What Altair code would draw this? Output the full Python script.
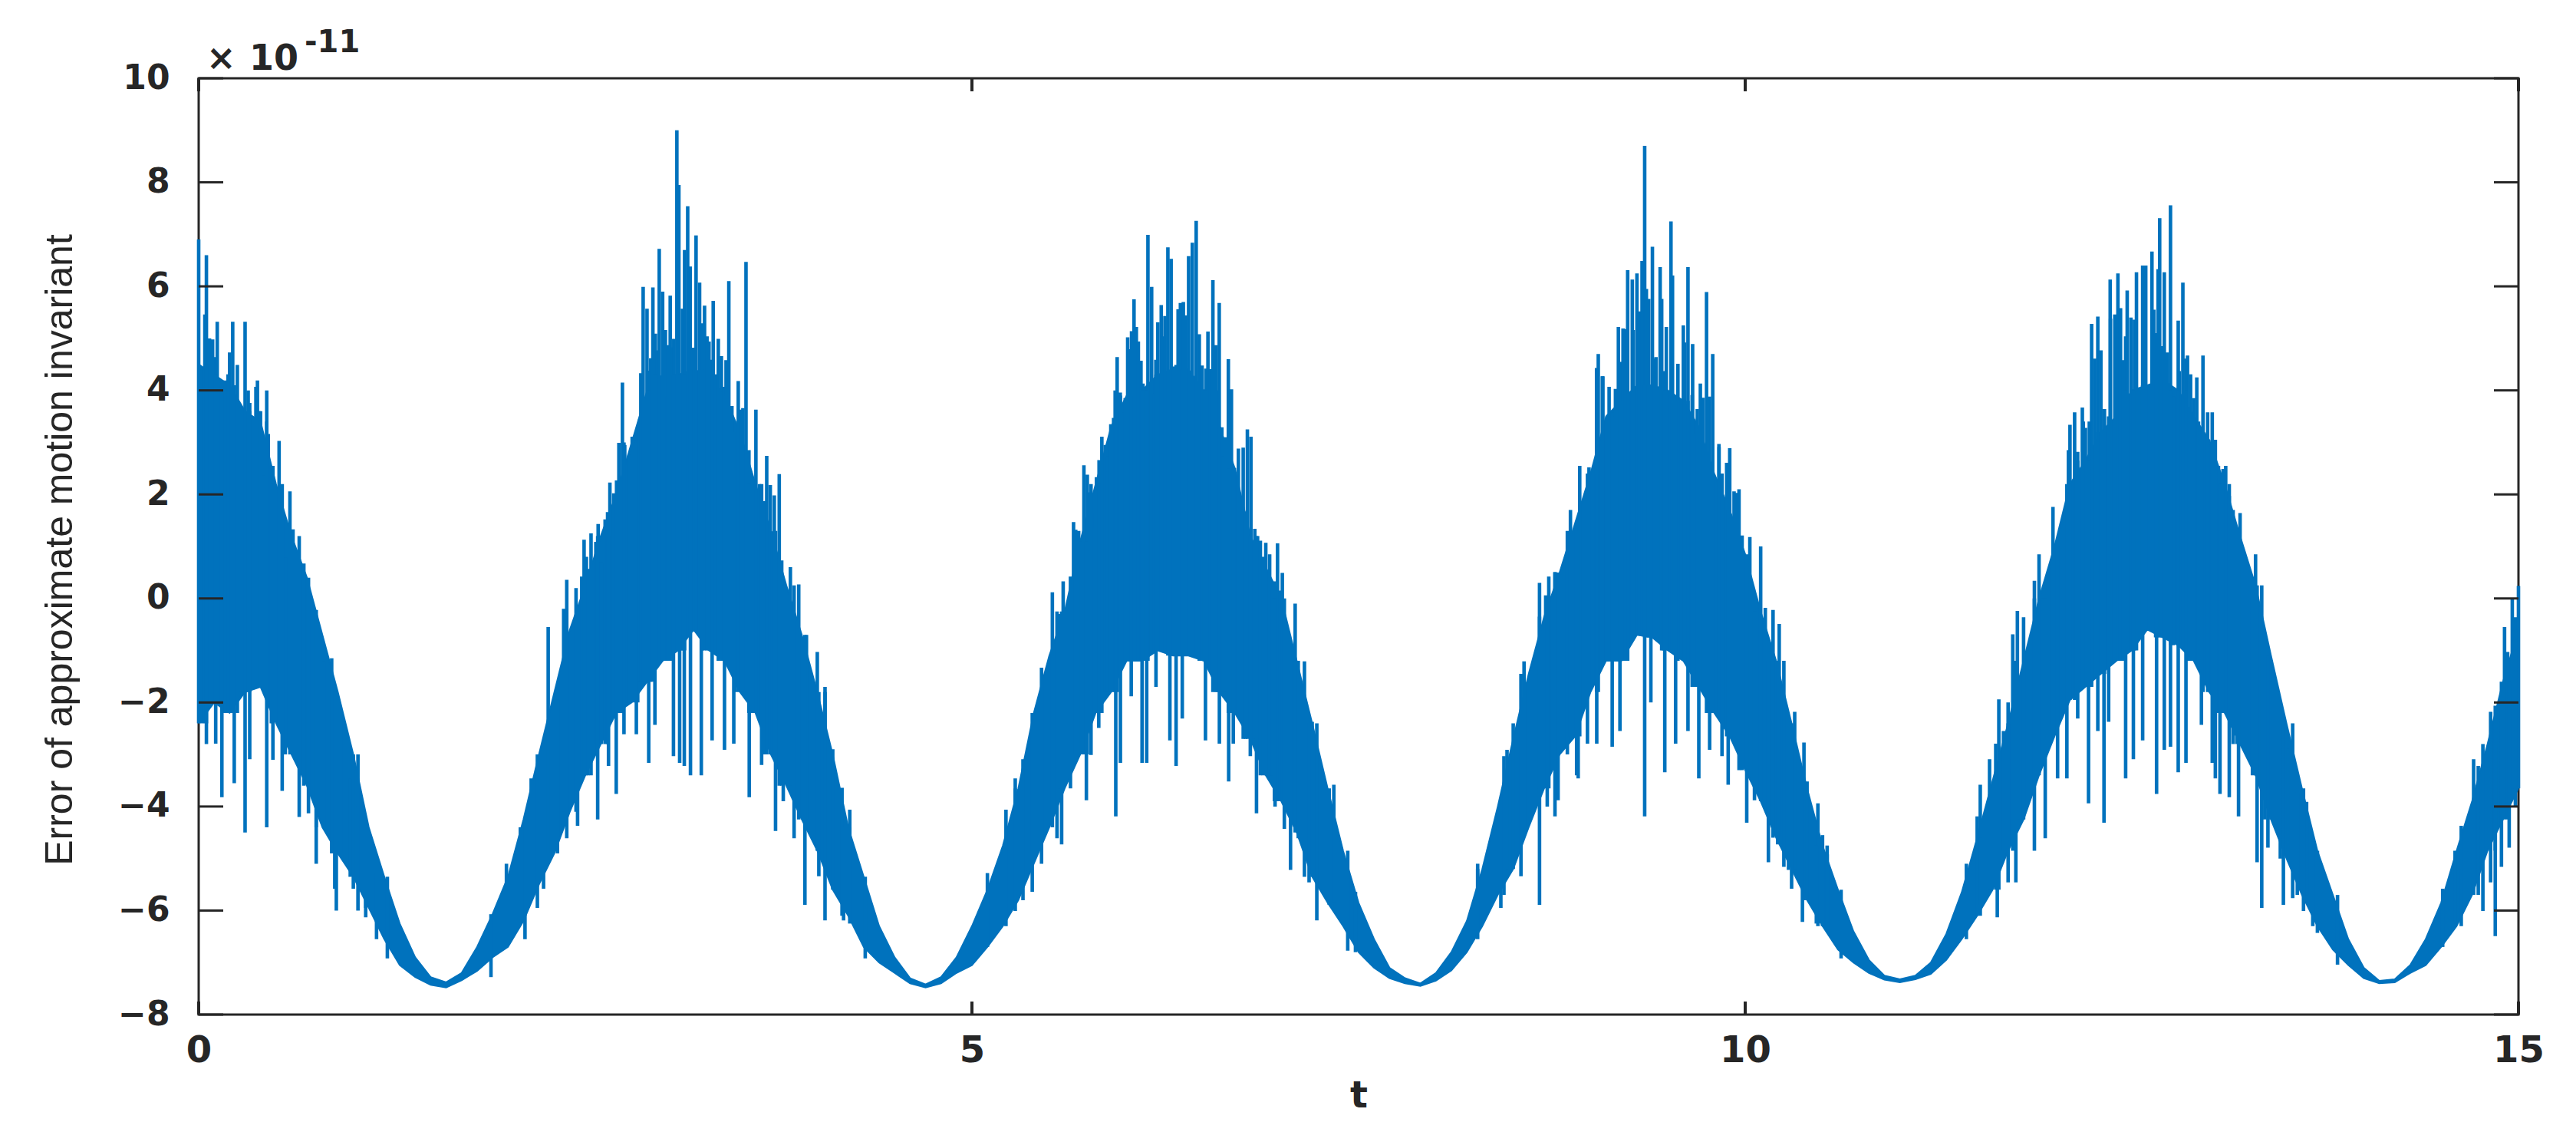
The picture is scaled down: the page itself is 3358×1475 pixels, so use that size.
import altair as alt
import pandas as pd

# sampling positions of the dense band (t = 0.0 ... 15.0, step 0.1)
T = [round(i * 0.1, 1) for i in range(151)]

# upper edge of the dense (solid) band, read at each T (units of 1e-11)
CORE_HI = [
    4.5, 4.3, 4.1, 3.6, 3.4, 2.2, 1.2, 0.4, -0.7, -1.8,
    -3.0, -4.4, -5.35, -6.25, -6.9, -7.28, -7.38, -7.2, -6.7, -6.07,
    -5.35, -4.25, -3.0, -1.8, -0.6, 0.25, 1.2, 2.0, 3.0, 4.0,
    4.3, 4.3, 4.4, 4.3, 3.9, 3.2, 2.2, 1.3, 0.25, -0.7,
    -1.8, -3.0, -4.4, -5.35, -6.3, -6.9, -7.3, -7.42, -7.28, -6.9,
    -6.3, -5.6, -4.75, -3.65, -2.2, -1.1, -0.25, 1.1, 2.2, 3.3,
    3.9, 4.0, 4.3, 4.4, 4.4, 4.0, 3.3, 2.5, 1.2, 0.6,
    0.0, -1.2, -2.4, -3.65, -4.85, -5.85, -6.55, -7.1, -7.3, -7.4,
    -7.2, -6.8, -6.2, -5.2, -4.0, -2.7, -1.45, -0.35, 0.5, 1.45,
    2.4, 3.5, 3.8, 4.1, 4.1, 4.0, 3.8, 3.3, 2.4, 1.7,
    0.85, -0.25, -1.2, -2.4, -3.65, -4.75, -5.6, -6.4, -6.95, -7.25,
    -7.32, -7.25, -7.0, -6.45, -5.65, -4.6, -3.5, -2.4, -1.2, 0.0,
    1.0, 2.2, 2.65, 3.2, 3.5, 4.0, 4.1, 4.2, 4.0, 3.5,
    3.05, 2.2, 1.2, 0.25, -1.1, -2.4, -3.65, -4.85, -5.7, -6.55,
    -7.1, -7.35, -7.32, -7.05, -6.55, -5.85, -4.85, -3.9, -2.8, -1.6,
    -0.6,
]

# lower edge of the dense band, read at each T
CORE_LO = [
    -2.4, -2.0, -2.2, -1.8, -1.7, -2.4, -3.0, -3.6, -4.4, -4.9,
    -5.35, -5.95, -6.55, -7.05, -7.28, -7.43, -7.48, -7.34, -7.16, -6.9,
    -6.7, -6.2, -5.5, -4.9, -4.1, -3.4, -2.8, -2.2, -2.0, -1.6,
    -1.2, -1.0, -0.6, -1.0, -1.2, -1.8, -2.2, -3.0, -3.6, -4.25,
    -4.85, -5.6, -6.1, -6.7, -7.0, -7.2, -7.4, -7.48, -7.4, -7.2,
    -7.05, -6.7, -6.3, -5.8, -5.1, -4.4, -3.65, -3.0, -2.2, -1.8,
    -1.2, -1.2, -1.0, -1.1, -1.1, -1.2, -1.8, -2.2, -2.7, -3.4,
    -3.9, -4.5, -5.35, -5.85, -6.3, -6.8, -7.1, -7.3, -7.4, -7.45,
    -7.35, -7.15, -6.8, -6.3, -5.7, -5.2, -4.4, -3.65, -3.0, -2.65,
    -1.8, -1.2, -1.2, -0.7, -0.75, -1.0, -1.2, -1.7, -2.2, -2.65,
    -3.3, -3.9, -4.6, -5.2, -5.8, -6.3, -6.75, -7.0, -7.2, -7.33,
    -7.38, -7.32, -7.22, -6.95, -6.55, -6.1, -5.6, -4.85, -4.25, -3.4,
    -2.65, -1.95, -1.7, -1.45, -1.2, -1.0, -0.6, -0.75, -0.9, -1.2,
    -1.8, -2.2, -2.8, -3.4, -4.25, -5.0, -5.7, -6.3, -6.75, -7.05,
    -7.3, -7.4, -7.38, -7.2, -7.05, -6.7, -6.3, -5.7, -4.85, -4.25,
    -3.65,
]

# upward spikes (t, tip value)
SPIKES_UP = [
    (0.00, 6.9), (0.05, 6.6), (0.07, 5.0), (0.10, 4.64), (0.12, 5.32), (0.17, 4.19),
    (0.20, 4.73), (0.22, 5.32), (0.26, 3.68), (0.30, 5.32), (0.32, 4.0), (0.37, 4.07),
    (0.39, 3.6), (0.44, 4.0), (0.48, 2.55), (0.52, 3.03), (0.56, 0.79), (0.59, 2.06),
    (0.61, 1.33), (0.68, 0.67), (0.71, 0.06), (0.76, -0.22), (0.81, -1.21), (0.86, -1.15),
    (0.88, -1.84), (0.92, -2.16), (0.98, -3.46), (1.03, -4.0), (1.08, -4.49), (1.15, -5.28),
    (1.21, -5.64),
    (1.99, -5.1), (2.08, -4.4), (2.15, -3.46), (2.26, -0.55), (2.32, -1.94), (2.36, -0.2),
    (2.38, 0.36), (2.44, 0.2),
    (2.477, 0.42), (2.492, 1.13), (2.507, 0.80), (2.517, 0.57), (2.537, 1.25), (2.568, 1.09),
    (2.583, 1.43), (2.604, 0.70), (2.628, 1.52), (2.644, 1.66), (2.659, 2.23), (2.684, 2.02),
    (2.702, 2.27), (2.717, 2.99), (2.740, 4.15), (2.755, 2.95), (2.765, 2.57), (2.783, 2.76),
    (2.803, 3.11), (2.824, 3.04), (2.839, 3.20), (2.851, 3.44), (2.859, 4.33), (2.874, 5.99),
    (2.899, 5.57), (2.917, 4.38), (2.923, 4.62), (2.937, 5.98), (2.953, 5.09), (2.963, 4.77),
    (2.978, 6.72), (3.000, 5.90), (3.018, 5.16), (3.029, 3.88), (3.034, 4.87), (3.049, 5.82),
    (3.064, 4.83), (3.072, 4.99), (3.092, 9.0), (3.105, 7.95), (3.120, 4.27), (3.128, 5.57),
    (3.142, 6.70), (3.162, 7.54), (3.178, 6.38), (3.188, 4.33), (3.198, 4.82), (3.216, 6.98),
    (3.239, 6.07), (3.256, 5.29), (3.271, 5.63), (3.287, 5.04), (3.300, 4.94), (3.310, 4.59),
    (3.327, 5.72), (3.343, 4.31), (3.360, 4.99), (3.380, 4.66), (3.391, 3.97), (3.398, 4.07),
    (3.410, 4.58), (3.428, 6.10), (3.448, 3.70), (3.467, 3.19), (3.489, 4.18), (3.506, 3.63),
    (3.519, 3.66), (3.539, 6.47), (3.558, 2.85), (3.580, 2.29), (3.603, 3.63), (3.626, 2.20),
    (3.644, 1.38), (3.656, 1.87), (3.673, 2.74), (3.696, 2.18), (3.709, 1.29), (3.722, 1.98),
    (3.737, 0.74), (3.754, 2.39), (3.770, 0.73), (3.826, 0.60),
    (3.88, 0.27), (3.93, -0.70), (4.00, -1.03), (4.05, -1.70), (4.10, -2.9), (4.16, -3.64),
    (4.21, -4.06),
    (5.10, -5.28), (5.22, -4.06), (5.28, -3.46), (5.33, -3.09), (5.39, -2.6), (5.45, -1.33),
    (5.52, 0.12), (5.57, -0.30),
    (5.590, 0.33), (5.637, 0.42), (5.657, 1.47), (5.671, 1.32), (5.690, 1.30), (5.708, 1.10),
    (5.724, 2.56), (5.746, 2.38), (5.759, 2.04), (5.774, 1.64), (5.789, 1.36), (5.805, 2.33),
    (5.822, 2.66), (5.840, 3.11), (5.862, 2.95), (5.875, 2.73), (5.883, 2.44), (5.898, 3.35),
    (5.916, 3.47), (5.926, 4.00), (5.939, 4.64), (5.959, 3.96), (5.976, 3.57), (5.991, 3.85),
    (6.007, 5.02), (6.022, 4.79), (6.032, 5.14), (6.048, 5.75), (6.063, 5.22), (6.076, 4.94),
    (6.093, 4.57), (6.106, 4.13), (6.118, 4.00), (6.138, 6.99), (6.162, 5.99), (6.181, 3.94),
    (6.189, 4.59), (6.202, 5.31), (6.224, 5.64), (6.239, 5.04), (6.248, 5.43), (6.267, 6.75),
    (6.288, 6.53), (6.305, 4.46), (6.320, 4.49), (6.333, 5.56), (6.348, 5.68), (6.367, 5.70),
    (6.382, 5.44), (6.401, 6.58), (6.425, 6.84), (6.450, 7.26), (6.470, 5.08), (6.488, 4.48),
    (6.503, 3.96), (6.513, 4.42), (6.526, 5.13), (6.541, 4.41), (6.558, 6.12), (6.576, 4.87),
    (6.586, 4.00), (6.599, 5.68), (6.616, 3.29), (6.627, 2.73), (6.640, 3.10), (6.658, 4.60),
    (6.678, 4.02), (6.697, 2.51), (6.723, 2.88), (6.754, 2.90), (6.769, 1.67), (6.781, 3.25),
    (6.804, 3.11), (6.829, 1.34), (6.847, 1.20), (6.865, 1.11), (6.883, 0.80), (6.900, 1.07),
    (6.925, 0.85), (6.941, 0.21), (6.956, 0.33), (6.976, 1.06), (6.991, 0.15), (7.007, 0.49),
    (7.09, -0.10), (7.15, -1.21), (7.20, -2.37), (7.34, -3.58), (7.48, -5.64),
    (8.27, -5.10), (8.44, -3.03), (8.46, -2.91), (8.50, -2.40), (8.57, -1.21), (8.67, 0.30),
    (8.71, 0.06), (8.73, 0.42), (8.77, 0.51), (8.85, 1.30), (8.87, 1.70), (8.93, 2.55),
    (8.99, 2.52), (9.05, 4.70), (9.08, 4.27),
    (9.12, 4.07), (9.18, 5.22), (9.22, 5.18), (9.24, 6.31), (9.27, 6.13), (9.30, 6.25),
    (9.35, 8.70), (9.40, 6.76), (9.45, 6.37), (9.46, 5.76), (9.49, 5.22), (9.52, 7.25),
    (9.53, 6.21), (9.60, 5.25), (9.63, 6.37), (9.66, 4.89), (9.71, 4.13), (9.75, 5.89),
    (9.79, 4.70), (9.83, 2.97), (9.88, 2.61), (9.90, 2.89), (9.94, 2.03), (9.96, 2.10),
    (9.98, 1.21), (10.03, 1.18), (10.10, 1.00), (10.13, -0.18), (10.18, -0.22), (10.22, -0.49),
    (10.32, -2.18), (10.38, -2.77), (10.40, -3.52), (10.47, -3.94), (10.50, -4.55), (10.53, -4.92),
    (11.43, -5.10), (11.50, -4.19), (11.52, -3.58), (11.58, -3.09), (11.62, -2.79), (11.64, -1.94),
    (11.67, -2.55), (11.70, -2.00), (11.73, -0.69), (11.76, -0.24), (11.80, -0.36), (11.87, 0.34),
    (11.90, 0.85), (11.99, 1.76), (12.09, 2.85), (12.10, 3.34),
    (12.13, 3.58), (12.15, 2.82), (12.18, 3.67), (12.20, 3.28), (12.24, 5.28), (12.28, 5.42),
    (12.30, 4.77), (12.36, 6.13), (12.39, 5.46), (12.41, 6.25), (12.46, 5.04), (12.47, 5.92),
    (12.53, 6.27), (12.57, 6.40), (12.59, 6.40), (12.63, 6.67), (12.68, 7.31), (12.71, 6.27),
    (12.75, 7.56), (12.80, 5.34), (12.83, 6.07), (12.86, 4.67), (12.92, 4.25), (12.96, 4.67),
    (12.99, 3.58), (13.02, 3.58), (13.06, 2.55), (13.09, 2.49), (13.13, 1.97), (13.18, 0.87),
    (13.20, 1.64), (13.28, 0.16), (13.30, 0.85), (13.32, -0.24), (13.36, -1.09), (13.40, -1.60),
    (13.46, -2.61), (13.51, -2.89), (13.57, -3.73), (13.63, -3.91), (13.67, -4.67),
    (14.51, -5.58), (14.63, -4.37), (14.71, -3.09), (14.74, -3.22), (14.82, -2.18), (14.85, -2.06),
    (14.91, -0.55), (14.93, -1.03), (14.96, 0.0), (14.98, -0.36), (15.00, 0.24),
]

# further upward columns read near the peaks at t = 0, 9.4 and 12.6
SPIKES_UP_EXTRA = [
    (0.02, 4.37), (0.04, 5.46), (0.09, 4.98), (0.14, 3.55), (0.15, 3.95), (0.19, 4.31),
    (0.25, 4.49), (0.27, 3.64), (0.33, 3.76), (0.38, 4.19), (0.40, 3.60), (0.42, 2.37),
    (0.45, 3.16), (0.47, 2.55),
    (9.039, 4.43), (9.076, 4.27), (9.141, 3.58), (9.161, 4.03), (9.198, 4.55), (9.210, 5.19),
    (9.223, 4.45), (9.276, 5.16), (9.315, 5.52), (9.333, 6.49), (9.361, 5.95), (9.376, 5.76),
    (9.410, 4.61), (9.423, 4.64), (9.470, 4.37), (9.541, 3.76), (9.553, 3.09), (9.565, 4.51),
    (9.608, 4.92), (9.657, 3.91), (9.674, 3.16), (9.690, 3.64), (9.727, 3.86), (9.769, 3.88),
    (9.831, 2.91), (9.928, 2.06),
    (12.142, 2.43), (12.186, 3.40), (12.225, 3.40), (12.260, 4.61), (12.323, 3.64), (12.362, 5.38),
    (12.427, 5.58), (12.446, 4.58), (12.494, 5.40), (12.517, 5.36), (12.643, 5.55), (12.654, 5.10),
    (12.670, 6.33), (12.694, 4.85), (12.729, 4.73), (12.768, 3.88), (12.807, 4.37), (12.849, 4.61),
    (12.880, 4.31), (12.900, 3.85), (12.931, 3.40), (13.107, 2.55), (13.155, 1.70),
]

# downward spikes (t, tip value)
SPIKES_DN = [
    (0.05, -2.8), (0.11, -2.79), (0.15, -3.82), (0.23, -3.55), (0.30, -4.5), (0.33, -3.09),
    (0.44, -4.4), (0.48, -3.1), (0.54, -3.7), (0.65, -4.2), (0.71, -4.13), (0.76, -5.1),
    (0.88, -5.58), (0.89, -6.0), (1.00, -5.58), (1.03, -6.0), (1.08, -6.13), (1.22, -6.92),
    (1.89, -7.28), (2.11, -6.55), (2.19, -5.95), (2.23, -5.58), (2.38, -4.61), (2.45, -4.37),
    (2.58, -4.25), (2.65, -3.22), (2.70, -3.76), (2.75, -2.61), (2.83, -2.61), (2.91, -3.16),
    (2.95, -2.43), (3.07, -3.03), (3.11, -3.16), (3.14, -3.22), (3.18, -3.40), (3.25, -3.40),
    (3.32, -2.73), (3.40, -2.91), (3.46, -2.79), (3.56, -3.82), (3.64, -3.2), (3.73, -4.47),
    (3.78, -3.9), (3.85, -4.61), (3.92, -5.89), (4.01, -5.34), (4.05, -6.19), (4.17, -6.19),
    (4.21, -6.25), (4.31, -6.92),
    (5.28, -6.01), (5.39, -5.64), (5.55, -4.61), (5.58, -4.73), (5.74, -3.88), (5.77, -3.01),
    (5.82, -2.49), (5.93, -4.19), (5.96, -3.16), (6.03, -1.88), (6.10, -3.16), (6.13, -3.16),
    (6.19, -1.70), (6.28, -2.73), (6.32, -3.22), (6.36, -2.31), (6.51, -2.73), (6.60, -2.79),
    (6.66, -3.52), (6.69, -2.79), (6.80, -3.03), (6.84, -4.13), (6.96, -4.00), (7.02, -4.43),
    (7.06, -5.22), (7.11, -4.61), (7.18, -5.46), (7.23, -6.19), (7.31, -5.89), (7.43, -6.77),
    (8.27, -6.55), (8.42, -5.95), (8.55, -5.34), (8.67, -5.89), (8.72, -4.00), (8.77, -4.19),
    (8.79, -3.88), (8.91, -3.40), (8.92, -3.46), (8.98, -2.79), (9.04, -2.79), (9.14, -2.85),
    (9.19, -2.55), (9.35, -4.19), (9.39, -2.00), (9.48, -3.34), (9.55, -2.79), (9.63, -2.55),
    (9.70, -3.46), (9.77, -2.91), (9.85, -3.03), (9.89, -3.58), (10.01, -4.31), (10.06, -3.88),
    (10.15, -5.07), (10.21, -4.73), (10.25, -5.16), (10.28, -5.22), (10.30, -5.58), (10.37, -6.22),
    (10.46, -6.25), (10.53, -6.37), (10.62, -6.92),
    (11.52, -5.89), (11.63, -6.13), (11.70, -5.46), (11.75, -5.46), (11.87, -4.85), (11.92, -3.16),
    (11.94, -4.61), (12.02, -3.46), (12.08, -3.46), (12.15, -2.31), (12.22, -3.94), (12.28, -2.55),
    (12.32, -4.31), (12.35, -2.37), (12.46, -3.46), (12.51, -3.09), (12.57, -2.73), (12.66, -3.76),
    (12.71, -2.91), (12.75, -2.85), (12.80, -3.34), (12.85, -3.16), (12.95, -2.43), (13.02, -3.16),
    (13.04, -3.46), (13.07, -3.76), (13.13, -3.82), (13.19, -4.19), (13.31, -5.07), (13.34, -5.95),
    (13.38, -4.79), (13.48, -5.89), (13.54, -5.76), (13.61, -6.01), (13.70, -6.43), (13.83, -7.04),
    (14.59, -6.25), (14.77, -6.01), (14.82, -5.46), (14.85, -6.49), (14.89, -5.16), (14.94, -4.79),
    (14.98, -4.00),
]

X_TICKS = [0, 5, 10, 15]
Y_TICKS = [-8, -6, -4, -2, 0, 2, 4, 6, 8, 10]
X_TITLE = "t"
Y_TITLE = "Error of approximate motion invariant"
EXP_BASE = ["×", "10"]
EXP_POWER = "-11"

BLUE = "#0072BD"
INK = "#262626"
W, H = 3024, 1220

core = pd.DataFrame({"t": T, "hi": CORE_HI, "lo": CORE_LO})
up = pd.DataFrame(SPIKES_UP + SPIKES_UP_EXTRA, columns=["t", "tip"])
up["base"] = [CORE_LO[int(round(t * 10))] for t in up["t"]]
dn = pd.DataFrame(SPIKES_DN, columns=["t", "tip"])
dn["base"] = [CORE_HI[int(round(t * 10))] for t in dn["t"]]
spikes = pd.concat([up, dn], ignore_index=True)

xscale = alt.Scale(domain=[0, 15], nice=False, zero=False)
yscale = alt.Scale(domain=[-8, 10], nice=False, zero=False)

xaxis = alt.Axis(
    values=X_TICKS, format="d", title=X_TITLE, grid=False, domain=False,
    ticks=False, tickSize=0, labelFlush=False, labelOverlap=False,
    labelFont="DejaVu Sans", labelFontWeight="bold", labelFontSize=48,
    labelColor=INK, labelPadding=61, labelBaseline="alphabetic",
    titleFont="DejaVu Sans", titleFontWeight="bold", titleFontSize=48,
    titleColor=INK, titleBaseline="alphabetic", titleAlign="center",
    titleX=W / 2, titleY=120,
)
yaxis = alt.Axis(
    values=Y_TICKS, format="d", title=Y_TITLE, grid=False, domain=False,
    ticks=False, tickSize=0, labelFlush=False, labelOverlap=False,
    labelFont="DejaVu Sans", labelFontWeight="bold", labelFontSize=44,
    labelColor=INK, labelPadding=38, labelBaseline="middle", labelAlign="right",
    titleFont="Liberation Sans", titleFontWeight="normal", titleFontSize=50,
    titleColor=INK, titleAngle=270, titleBaseline="alphabetic", titleAlign="center",
    titleX=-166, titleY=614,
)

X = lambda f: alt.X(f, type="quantitative", scale=xscale, axis=xaxis)
Y = lambda f: alt.Y(f, type="quantitative", scale=yscale, axis=yaxis)

band = alt.Chart(core).mark_area(color=BLUE, opacity=1).encode(
    x=X("t"), y=Y("lo"), y2="hi"
)
edge_hi = alt.Chart(core).mark_line(color=BLUE, strokeWidth=2).encode(x=X("t"), y=Y("hi"))
edge_lo = alt.Chart(core).mark_line(color=BLUE, strokeWidth=2).encode(x=X("t"), y=Y("lo"))
spk = alt.Chart(spikes).mark_rule(color=BLUE, strokeWidth=4.6).encode(
    x=X("t"), y=Y("tip"), y2="base"
)

ytk = pd.DataFrame({"v": Y_TICKS})
xtk = pd.DataFrame({"t": X_TICKS})
tick_l = alt.Chart(ytk).mark_rule(color=INK, strokeWidth=3, x2Offset=32).encode(
    x=alt.datum(0), x2=alt.datum(0), y=Y("v")
)
tick_r = alt.Chart(ytk).mark_rule(color=INK, strokeWidth=3, xOffset=-32).encode(
    x=alt.datum(15), x2=alt.datum(15), y=Y("v")
)
tick_b = alt.Chart(xtk).mark_rule(color=INK, strokeWidth=4, y2Offset=-17).encode(
    x=X("t"), y=alt.datum(-8), y2=alt.datum(-8)
)
tick_t = alt.Chart(xtk).mark_rule(color=INK, strokeWidth=4, y2Offset=17).encode(
    x=X("t"), y=alt.datum(10), y2=alt.datum(10)
)

def label(txt, dx, dy, size):
    return alt.Chart(pd.DataFrame({"s": [txt]})).mark_text(
        align="left", baseline="alphabetic", dx=dx, dy=dy, fontSize=size,
        font="DejaVu Sans", fontWeight="bold", color=INK,
    ).encode(x=alt.datum(0), y=alt.datum(10), text="s:N")

exp_times = label(EXP_BASE[0], 10, -11, 46)
exp_ten = label(EXP_BASE[1], 66, -11, 46)
exp_pow = label(EXP_POWER, 138, -34, 40)

chart = alt.layer(
    band, edge_hi, edge_lo, spk, tick_l, tick_r, tick_b, tick_t,
    exp_times, exp_ten, exp_pow,
).properties(
    width=W, height=H,
    autosize=alt.AutoSizeParams(type="none"),
    padding={"left": 251, "top": 94, "right": 60, "bottom": 140},
    background="white",
).configure_view(stroke=INK, strokeWidth=3)

chart.save("out.html", embed_options={"renderer": "svg", "actions": False})
